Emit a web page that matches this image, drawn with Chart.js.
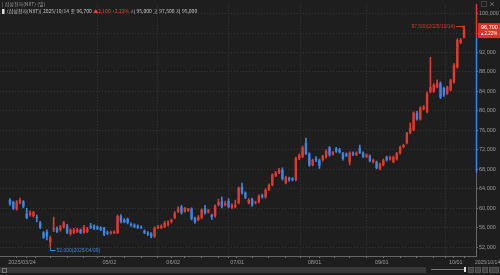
<!DOCTYPE html>
<html lang="ko">
<head>
<meta charset="utf-8">
<title>삼성전자(NXT) 일봉</title>
<script src="https://cdn.jsdelivr.net/npm/chart.js@4.4.1/dist/chart.umd.min.js"></script>
<style>
  html, body { margin: 0; padding: 0; background: #1e1e1e; }
  #wrap { position: relative; width: 500px; height: 275px; overflow: hidden; background: #1e1e1e;
          font-family: "Noto Sans CJK KR", "Liberation Sans", sans-serif; }
  #canvas-container { position: absolute; left: 0; top: 0; width: 500px; height: 266px; }
  .hdr { position: absolute; left: 2px; font-size: 5px; line-height: 6px; white-space: nowrap; color: #9a9a9a; }
  #hdr1 { top: 1px; }
  #hdr2 { top: 8px; color: #c4c4c4; }
  #hdr2 .up { color: #e0473b; }
  #hdr2 .mark { color: #ddd; }
  #winBtns { position: absolute; right: 3px; top: 1px; font-size: 6px; line-height: 6px; color: #aaa; letter-spacing: 2px; }
  #lastDate { position: absolute; left: 475px; top: 259px; font: 5px "Liberation Sans", sans-serif; color: #9a9a9a; }
  #scroll { position: absolute; left: 0; top: 267px; width: 426px; height: 6px; background: #383838; }
  #scroll .knob { position: absolute; left: 2px; top: 1px; width: 3px; height: 3px; border: 1px solid #777; }
  #slider { position: absolute; left: 431px; top: 269px; width: 34px; height: 1px; background: #777; }
  #slider .knob { position: absolute; right: -1px; top: -2px; width: 2px; height: 5px; background: #ddd; }
  .btn { position: absolute; top: 267px; height: 6px; background: #444; border: 1px solid #555; box-sizing: border-box; }
</style>
</head>
<body>
<div id="wrap">
  <div id="canvas-container"><canvas id="myChart"></canvas></div>
  <div class="hdr" id="hdr1">| 삼성전자(NXT) (일)</div>
  <div class="hdr" id="hdr2"></div>
  <div id="winBtns">□×</div>
  <div id="lastDate"></div>
  <div id="scroll"><div class="knob"></div></div>
  <div id="slider"><div class="knob"></div></div>
  <div class="btn" style="left:468px;width:6px"></div>
  <div class="btn" style="left:475px;width:6px"></div>
  <div class="btn" style="left:482px;width:6px"></div>
  <div class="btn" style="left:489px;width:10px"></div>
</div>
<script>
// 거래일 (휴장일 제외)
const firstDay = Date.UTC(2025, 2, 24);
const lastDay = Date.UTC(2025, 9, 14);
const holidays = ['2025/05/01', '2025/05/05', '2025/05/06', '2025/06/03', '2025/06/06',
                  '2025/08/15', '2025/10/03', '2025/10/06', '2025/10/07', '2025/10/08', '2025/10/09'];

// 시가 / 고가 / 저가 / 종가
const opens = [
  61700, 61300, 59900, 61100, 61400, 59000, 58600, 58400, 58200, 57000,
  55000, 55200, 53000, 55600, 55900, 55600, 56100, 56400, 54700, 55000,
  55200, 55600, 55000, 55200, 56400, 56400, 56200, 56000, 56000, 55100,
  54900, 54900, 54900, 58400, 57600, 57800, 56800, 56600, 56400, 56200,
  55400, 55000, 54800, 54200, 56000, 56000, 56200, 56600, 57200, 58000,
  59300, 60300, 59400, 59500, 59900, 58000, 57600, 58000, 60000, 59200,
  58600, 58400, 60700, 61500, 60700, 61500, 60100, 60300, 61100, 64400,
  63200, 61100, 61900, 61100, 61300, 62700, 62300, 63800, 64800, 66700,
  67300, 67900, 65200, 66200, 66100, 65800, 70300, 70600, 73400, 71200,
  68900, 70300, 69900, 69900, 70500, 72500, 71100, 72300, 72100, 71300,
  71200, 69500, 71400, 71000, 72400, 71400, 70600, 70800, 69500, 69500,
  68100, 68900, 70500, 70100, 69500, 70100, 71300, 72600, 73400, 75500,
  76100, 79600, 78300, 80400, 79800, 83900, 84000, 84900, 85700, 84700,
  83600, 84300, 85900, 89000, 94000, 95000
];
const highs = [
  62000, 61500, 61600, 62100, 61600, 60000, 59500, 59400, 58600, 57300,
  55200, 55600, 54300, 58200, 56200, 56500, 57300, 56700, 55800, 55900,
  55900, 55800, 56500, 56100, 56900, 56600, 56400, 56200, 56100, 55300,
  55300, 55400, 58600, 58700, 57900, 58000, 57000, 56800, 56600, 56400,
  55600, 55200, 55000, 56200, 56500, 56600, 57300, 57400, 57800, 59300,
  60300, 60600, 60200, 60000, 60100, 58200, 58500, 59900, 60600, 59800,
  58800, 60700, 61900, 62300, 61500, 62000, 60900, 61700, 64400, 65200,
  63400, 62000, 62100, 61500, 62800, 62900, 64000, 65000, 67100, 67600,
  68200, 68300, 66600, 66400, 66300, 70500, 71200, 72800, 74400, 71400,
  70100, 70600, 70100, 70900, 72000, 72700, 71700, 72500, 72300, 71500,
  71400, 71600, 71600, 71600, 73000, 71600, 71200, 71000, 70100, 69700,
  69300, 70100, 70700, 70700, 70700, 71500, 72800, 73200, 75600, 77500,
  79800, 79900, 80900, 81100, 83900, 91000, 85600, 86400, 86000, 84900,
  85100, 86500, 89700, 94800, 94900, 97500
];
const lows = [
  60600, 59700, 59600, 60900, 60100, 57800, 58400, 58200, 57200, 55800,
  53800, 53500, 52000, 55200, 55000, 55300, 55900, 54800, 54500, 54800,
  55000, 54800, 54900, 55000, 55800, 55600, 55600, 55400, 54400, 54600,
  54700, 54800, 54800, 57000, 57000, 56800, 56300, 56000, 55800, 55800,
  54800, 54400, 53900, 54000, 55800, 55800, 56000, 56400, 57000, 57800,
  59100, 58800, 59200, 59300, 57600, 56900, 57400, 57800, 58800, 59000,
  57700, 58200, 60500, 60100, 60500, 60100, 59900, 60100, 60900, 62900,
  62000, 60900, 60400, 60900, 61100, 62100, 62100, 63600, 64600, 66500,
  67100, 65800, 65000, 65500, 65600, 65600, 70000, 70400, 71000, 68600,
  68700, 69600, 68200, 69700, 70300, 70700, 70900, 71500, 71300, 69900,
  70600, 68900, 70800, 70800, 71200, 70400, 70400, 69500, 69300, 68100,
  67900, 68700, 69700, 69900, 69300, 69900, 71100, 72400, 73200, 75300,
  75900, 78100, 78100, 80200, 79600, 83700, 83800, 84700, 82500, 83000,
  83400, 84100, 85700, 88800, 93800, 95000
];
const closes = [
  60900, 59900, 61300, 61700, 60300, 58000, 59200, 59200, 58000, 56000,
  54000, 54200, 53900, 55900, 55200, 56200, 57000, 55000, 55600, 55600,
  55600, 55000, 56200, 55800, 56000, 55800, 55800, 55600, 54600, 54800,
  55100, 55200, 58400, 57200, 57200, 57000, 56500, 56200, 56000, 56000,
  55000, 54600, 54200, 56000, 56200, 56400, 57000, 57000, 57600, 59000,
  60000, 59100, 60000, 59900, 57800, 57200, 58200, 59700, 59000, 59600,
  58200, 60500, 61300, 60300, 61100, 60300, 60700, 60700, 64200, 63200,
  62200, 61700, 60700, 61300, 62500, 62300, 63800, 64800, 66900, 67300,
  67900, 66000, 66400, 65800, 65800, 70300, 70900, 72500, 71200, 68900,
  69900, 69900, 68700, 70700, 71700, 70900, 71500, 71700, 71500, 70100,
  70800, 71400, 71000, 71400, 71400, 70600, 71000, 69700, 69900, 68300,
  69100, 69900, 69900, 70500, 70500, 71300, 72600, 73000, 75400, 76500,
  79600, 78300, 80600, 80800, 83600, 84900, 85300, 85700, 82800, 83200,
  84900, 86300, 89400, 94500, 94600, 96700
];

// 가격축 눈금, 축 색 구간
const priceTicks = [52000, 56000, 60000, 64000, 68000, 72000, 76000, 80000, 84000, 88000, 92000, 96000, 100000];
const axisBand = [67300, 95000];

const up = '#e03a2e';
const down = '#3a86e0';
const fmt = v => v.toLocaleString('en-US');
const pad = n => String(n).padStart(2, '0');

const dates = [];
const dows = [];
for (let t = firstDay; t <= lastDay; t += 86400000) {
    const d = new Date(t);
    const dow = d.getUTCDay();
    const s = `${d.getUTCFullYear()}/${pad(d.getUTCMonth() + 1)}/${pad(d.getUTCDate())}`;
    if (dow === 0 || dow === 6 || holidays.includes(s)) continue;
    dates.push(s);
    dows.push(dow);
}

// 월 시작 눈금 (첫 라벨과 겹치는 달은 생략), 주 시작 눈금
const monthIdx = dates.map((d, i) => i).filter(i => i === 0 || dates[i].slice(5, 7) !== dates[i - 1].slice(5, 7));
const labelIdx = new Set(monthIdx.filter(i => i === 0 || i > 10));
const tickIdx = dates.map((d, i) => i).filter(i => i === 0 || monthIdx.includes(i) || dows[i] <= dows[i - 1]);

const last = closes.length - 1;
const diff = closes[last] - closes[last - 1];
const pct = (diff / closes[last - 1] * 100).toFixed(2);

document.getElementById('hdr2').innerHTML =
    `<span class="mark">▌</span>(삼성전자(NXT)) ${dates[last]} 종 ${fmt(closes[last])} ` +
    `<span class="up">▲${fmt(diff)} +${pct}%</span> 시 ${fmt(opens[last])} 고 ${fmt(highs[last])} 저 ${fmt(lows[last])}`;
document.getElementById('lastDate').textContent = dates[last];

const candleColors = closes.map((c, i) => c >= opens[i] ? up : down);

// 최저/최고 표시, 현재가 태그
const chartMarks = {
    id: 'chartMarks',
    afterDatasetsDraw(chart) {
        const { ctx, scales: { x, y } } = chart;
        ctx.save();
        ctx.lineWidth = 1;
        ctx.font = '5px "Liberation Sans", sans-serif';
        ctx.textBaseline = 'middle';

        const lo = lows.indexOf(Math.min(...lows));
        const lx = Math.round(x.getPixelForValue(lo)) + 0.5;
        const ly = Math.round(y.getPixelForValue(lows[lo])) + 0.5;
        ctx.strokeStyle = ctx.fillStyle = '#3f86d8';
        ctx.beginPath();
        ctx.moveTo(lx, ly);
        ctx.lineTo(lx, ly + 3);
        ctx.lineTo(lx + 5, ly + 3);
        ctx.stroke();
        ctx.textAlign = 'left';
        ctx.fillText(`${fmt(lows[lo])}(${dates[lo]})`, lx + 6, ly + 3);

        const hi = highs.indexOf(Math.max(...highs));
        const hx = x.getPixelForValue(hi);
        const hy = Math.round(y.getPixelForValue(highs[hi])) + 0.5;
        ctx.strokeStyle = ctx.fillStyle = '#d8392e';
        ctx.beginPath();
        ctx.moveTo(hx - 8, hy);
        ctx.lineTo(hx - 1, hy);
        ctx.lineTo(hx - 1, hy + 2);
        ctx.stroke();
        ctx.textAlign = 'right';
        ctx.fillText(`${fmt(highs[hi])}(${dates[hi]})`, hx - 9, hy);
        ctx.restore();
    },
    afterDraw(chart) {
        const { ctx, chartArea, scales: { y } } = chart;
        ctx.save();
        const ax = chartArea.right + 0.5;
        ctx.lineWidth = 1.5;
        ctx.strokeStyle = up;
        ctx.beginPath();
        ctx.moveTo(ax, chartArea.top);
        ctx.lineTo(ax, y.getPixelForValue(axisBand[1]));
        ctx.stroke();
        ctx.strokeStyle = down;
        ctx.beginPath();
        ctx.moveTo(ax, y.getPixelForValue(axisBand[1]));
        ctx.lineTo(ax, y.getPixelForValue(axisBand[0]));
        ctx.stroke();

        const ty = y.getPixelForValue(closes[last]);
        ctx.fillStyle = '#d8352a';
        ctx.fillRect(chartArea.right + 2, ty - 6.5, chart.width - chartArea.right - 2, 15);
        ctx.fillStyle = '#ffffff';
        ctx.textAlign = 'left';
        ctx.textBaseline = 'middle';
        ctx.font = '5.5px "Liberation Sans", sans-serif';
        ctx.fillText(fmt(closes[last]), chartArea.right + 5, ty - 2.5);
        ctx.font = '4.5px "Liberation Sans", sans-serif';
        ctx.fillText(`▲${pct}%`, chartArea.right + 4, ty + 4);
        ctx.restore();
    }
};

const ctx = document.getElementById('myChart').getContext('2d');
const myChart = new Chart(ctx, {
    type: 'bar',
    data: {
        datasets: [{
            label: '고저',
            data: dates.map((d, i) => ({ x: i, y: [lows[i], highs[i]] })),
            backgroundColor: candleColors,
            barThickness: 1,
            grouped: false,
            order: 2
        }, {
            label: '시종',
            data: dates.map((d, i) => ({ x: i, y: [opens[i], closes[i]] })),
            backgroundColor: candleColors,
            barPercentage: 0.72,
            categoryPercentage: 1,
            minBarLength: 1,
            grouped: false,
            order: 1
        }]
    },
    options: {
        responsive: true,
        maintainAspectRatio: false,
        animation: false,
        layout: { padding: { top: 4 } },
        plugins: {
            legend: { display: false },
            tooltip: { enabled: false }
        },
        scales: {
            x: {
                type: 'linear',
                min: -0.87,
                max: 136.47,
                afterBuildTicks: scale => { scale.ticks = tickIdx.map(i => ({ value: i - 0.5 })); },
                afterFit: scale => { scale.height = 10; },
                ticks: {
                    autoSkip: false,
                    maxRotation: 0,
                    minRotation: 0,
                    align: 'start',
                    padding: 1,
                    color: '#9a9a9a',
                    font: { family: '"Liberation Sans", sans-serif', size: 5.5 },
                    callback: v => {
                        const i = Math.round(v + 0.5);
                        if (i === 0) return dates[0];
                        return labelIdx.has(i) ? dates[i].slice(5) : '';
                    }
                },
                grid: {
                    color: c => (c.tick && c.tick.value > 0 && labelIdx.has(Math.round(c.tick.value + 0.5))) ? '#3a3a3a' : 'transparent',
                    tickColor: '#777',
                    tickLength: 2
                },
                border: { color: '#666', dash: [1, 2] }
            },
            y: {
                position: 'right',
                min: 50200,
                max: 101900,
                afterBuildTicks: scale => { scale.ticks = priceTicks.map(v => ({ value: v })); },
                afterFit: scale => { scale.width = 24; },
                ticks: {
                    padding: 1,
                    color: '#9a9a9a',
                    font: { family: '"Liberation Sans", sans-serif', size: 5.5 },
                    callback: v => fmt(v)
                },
                grid: {
                    color: '#363636',
                    tickColor: '#777',
                    tickLength: 2
                },
                border: { color: '#666', dash: [1, 2] }
            }
        }
    },
    plugins: [chartMarks]
});
</script>
</body>
</html>
